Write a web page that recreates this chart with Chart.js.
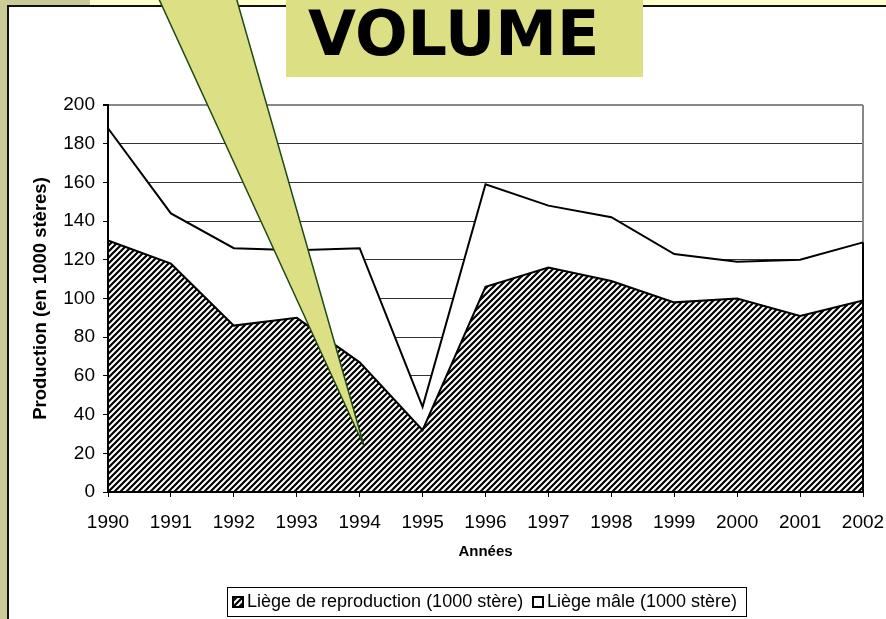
<!DOCTYPE html>
<html lang="fr">
<head>
<meta charset="UTF-8">
<title>Volume - production de liège</title>
<script src="https://cdn.jsdelivr.net/npm/chart.js"></script>
<style>
  body {
    margin: 0;
    width: 886px;
    height: 619px;
    overflow: hidden;
    position: relative;
    background: #cbcb98;
    font-family: "Liberation Sans", Arial, sans-serif;
  }
  .strip {
    position: absolute;
    left: 90px; top: 0;
    width: 796px; height: 5px;
    background: #ffffcc;
  }
  .panel {
    position: absolute;
    left: 7px; top: 5px; right: 0; bottom: 0;
    background: #fff;
    border-left: 2px solid #111;
    border-top: 2px solid #111;
  }
  .banner {
    position: absolute;
    left: 286px; top: 0;
    width: 357px; height: 77px;
    box-sizing: border-box;
    padding: 3px 0 0 22px;
    background: #dcdf84;
    font: bold 62px "DejaVu Sans", sans-serif;
    line-height: 62px;
    color: #000;
  }
  #chart { position: absolute; left: 0; top: 0; }
</style>
</head>
<body>
  <div class="strip"></div>
  <div class="panel"></div>
  <div class="banner">VOLUME</div>
  <canvas id="chart" width="886" height="619"></canvas>
<script>
  // data (1000 stères)
  const years = ['1990', '1991', '1992', '1993', '1994', '1995', '1996',
                 '1997', '1998', '1999', '2000', '2001', '2002'];
  const reproduction = [130, 118, 86, 90, 67, 32, 106, 116, 109, 98, 100, 91, 99];
  const male = [58, 26, 40, 35, 59, 12, 53, 32, 33, 25, 19, 29, 30];
  const seriesNames = ['Liège de reproduction (1000 stère)', 'Liège mâle (1000 stère)'];
  const yMin = 0, yMax = 200, yStep = 20;

  const canvas = document.getElementById('chart');
  const ctx = canvas.getContext('2d');

  function makeHatch() {
    const c = document.createElement('canvas');
    c.width = 6; c.height = 6;
    const g = c.getContext('2d');
    g.fillStyle = '#fff';
    g.fillRect(0, 0, 6, 6);
    g.strokeStyle = '#000';
    g.lineWidth = 2.2;
    g.beginPath();
    g.moveTo(-1, 1); g.lineTo(1, -1);
    g.moveTo(-1, 7); g.lineTo(7, -1);
    g.moveTo(5, 7); g.lineTo(7, 5);
    g.stroke();
    return ctx.createPattern(c, 'repeat');
  }
  const hatch = makeHatch();

  const font = 'Liberation Sans';

  const decorations = {
    id: 'decorations',
    beforeDatasetsDraw(chart) {
      const a = chart.chartArea;
      const c = chart.ctx;
      c.save();
      c.strokeStyle = '#888';
      c.lineWidth = 2;
      c.beginPath();
      c.moveTo(a.right, a.top);
      c.lineTo(a.right, a.bottom);
      c.stroke();
      c.restore();
    },
    afterDatasetsDraw(chart) {
      const a = chart.chartArea;
      const c = chart.ctx;
      const top = chart.getDatasetMeta(1).data;
      const last = top[top.length - 1];
      c.save();
      c.strokeStyle = '#000';
      c.lineWidth = 2;
      c.beginPath();
      c.moveTo(last.x, last.y);
      c.lineTo(last.x, a.bottom);
      c.moveTo(a.left, a.top);
      c.lineTo(a.left, a.bottom);
      c.lineTo(a.right, a.bottom);
      c.stroke();
      c.restore();
    },
    afterDraw(chart) {
      const c = chart.ctx;
      c.save();
      // callout pointer
      c.beginPath();
      c.moveTo(158, -3);
      c.lineTo(236, -3);
      c.lineTo(364, 446);
      c.closePath();
      c.fillStyle = '#dcdf84';
      c.fill();
      c.strokeStyle = '#1d4a16';
      c.lineWidth = 1.5;
      c.stroke();

      // legend
      c.strokeStyle = '#000';
      c.lineWidth = 1;
      c.strokeRect(227.5, 587.5, 519, 29);
      const items = [
        { x: 233, fill: chart.data.datasets[0].backgroundColor, text: chart.data.datasets[0].label },
        { x: 533, fill: chart.data.datasets[1].backgroundColor, text: chart.data.datasets[1].label }
      ];
      c.font = '18px "' + font + '"';
      c.textBaseline = 'middle';
      items.forEach(it => {
        c.fillStyle = it.fill;
        c.fillRect(it.x, 597, 10, 10);
        c.lineWidth = 2;
        c.strokeStyle = '#000';
        c.strokeRect(it.x, 597, 10, 10);
        c.fillStyle = '#000';
        c.fillText(it.text, it.x + 14, 602.5);
      });
      c.restore();
    }
  };

  new Chart(ctx, {
    type: 'line',
    data: {
      labels: years,
      datasets: [
        {
          label: seriesNames[0],
          data: reproduction,
          backgroundColor: hatch,
          borderColor: '#000',
          borderWidth: 2,
          fill: 'origin',
          pointRadius: 0,
          tension: 0
        },
        {
          label: seriesNames[1],
          data: male,
          backgroundColor: '#ffffff',
          borderColor: '#000',
          borderWidth: 2,
          fill: '-1',
          pointRadius: 0,
          tension: 0
        }
      ]
    },
    options: {
      responsive: false,
      animation: false,
      devicePixelRatio: 1,
      layout: { padding: { left: 30, top: 105, right: 23, bottom: 58 } },
      plugins: {
        legend: { display: false },
        tooltip: { enabled: false }
      },
      scales: {
        x: {
          offset: false,
          afterFit: s => { s.height = 69; s.paddingLeft = 0; s.paddingRight = 0; },
          grid: { drawOnChartArea: false, drawTicks: true, tickLength: 5, tickColor: '#000' },
          border: { color: '#000', width: 2 },
          ticks: {
            color: '#000',
            font: { family: font, size: 19 },
            padding: 14,
            maxRotation: 0,
            autoSkip: false
          },
          title: {
            display: true,
            text: 'Années',
            color: '#000',
            font: { family: font, size: 15, weight: 'bold' },
            padding: 0
          }
        },
        y: {
          stacked: true,
          min: yMin,
          max: yMax,
          afterFit: s => { s.width = 78; s.paddingTop = 0; s.paddingBottom = 0; },
          grid: {
            color: c => c.tick.value === yMax ? '#888' : '#333',
            lineWidth: c => c.tick.value === yMax ? 2 : 1,
            tickLength: 5,
            tickColor: '#000'
          },
          border: { color: '#000', width: 2 },
          ticks: {
            stepSize: yStep,
            color: '#000',
            font: { family: font, size: 19 },
            padding: 8
          },
          title: {
            display: true,
            text: 'Production (en 1000 stères)',
            color: '#000',
            font: { family: font, size: 18.5, weight: 'bold' },
            padding: 0
          }
        }
      }
    },
    plugins: [decorations]
  });
</script>
</body>
</html>
